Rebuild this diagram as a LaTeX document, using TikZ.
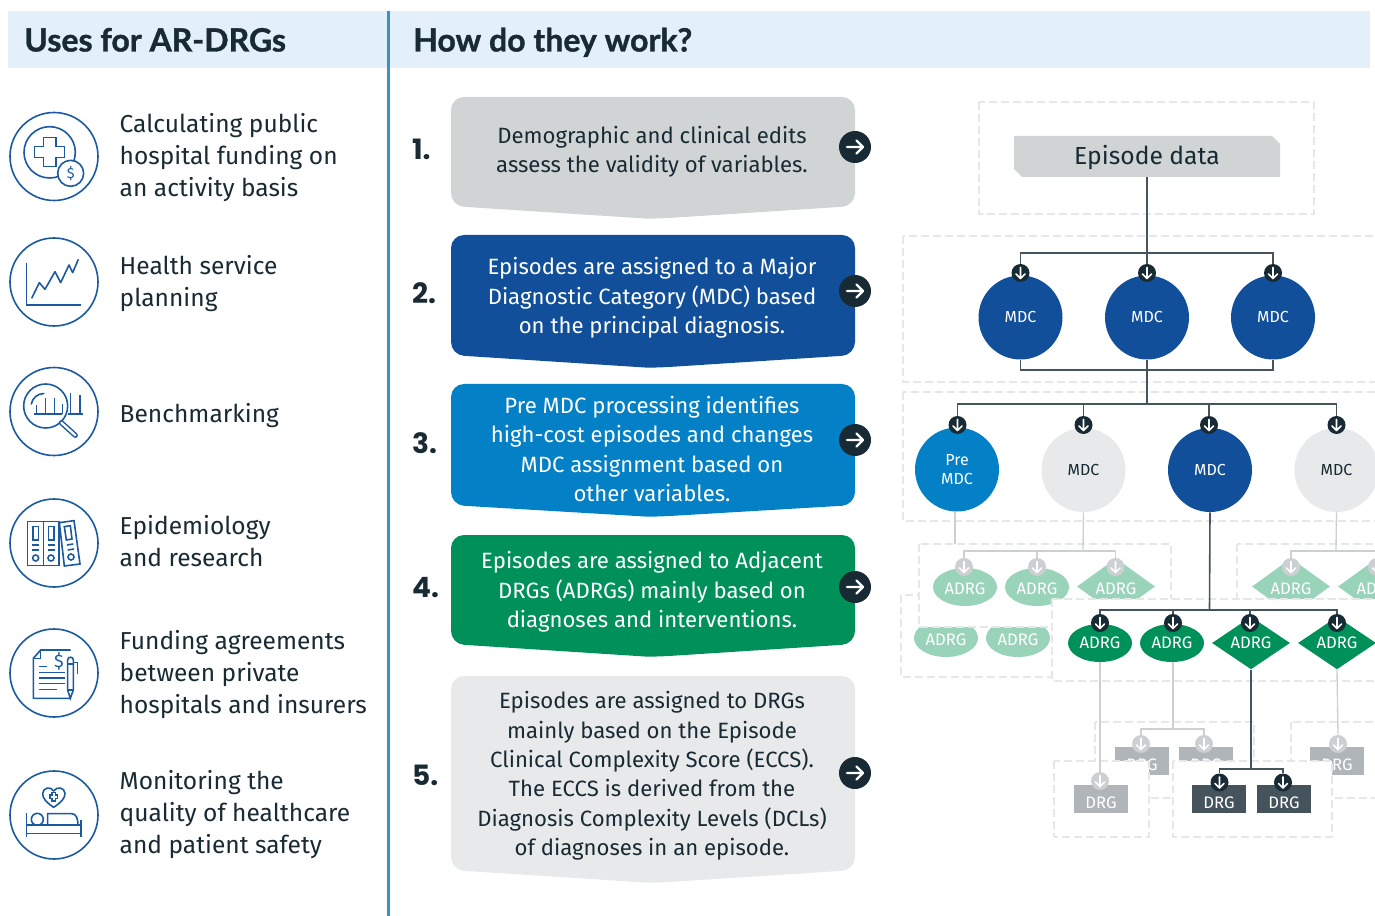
\documentclass[tikz,border=0pt]{standalone}
\usepackage{fontspec}
\setmainfont{Fira Sans}
\newfontfamily\headfont{Lato}[BoldFeatures={FakeBold=1.2}]
\newfontfamily\numfont{Poppins}
\usetikzlibrary{shapes.geometric,calc}
\definecolor{navy}{HTML}{114F9A}
\definecolor{midblue}{HTML}{0380C6}
\definecolor{green1}{HTML}{00915A}
\definecolor{palegreen}{HTML}{99D3BA}
\definecolor{greybox}{HTML}{D1D4D5}
\definecolor{paleMDC}{HTML}{E8E9EA}
\definecolor{ink}{HTML}{182A33}
\definecolor{band}{HTML}{E3F0F9}
\definecolor{rule}{HTML}{3D8FC8}
\definecolor{dashc}{HTML}{E5E7E8}
\definecolor{darkline}{HTML}{45555E}
\definecolor{paleline}{HTML}{CDD0D2}
\definecolor{drgdark}{HTML}{45545C}
\definecolor{drgpale}{HTML}{B0B5B9}
\definecolor{iconc}{HTML}{1B5AA0}
\tikzset{
 headtext/.style={anchor=base west,inner sep=0pt,text=ink,font=\headfont\bfseries\fontsize{24}{28}\selectfont},
 usetext/.style={anchor=west,align=left,text=ink,font=\fontsize{18.4}{24}\selectfont},
 steptext/.style={align=center,font=\fontsize{16.6}{22}\selectfont},
 numtext/.style={anchor=west,text=ink,font=\numfont\bfseries\fontsize{21}{26}\selectfont},
 iconline/.style={draw=iconc,line width=1.2pt},
 iconring/.style={circle,draw=iconc,line width=1.2pt,minimum size=66pt,inner sep=0pt},
 dashbox/.style={draw=dashc,line width=1.8pt,dash pattern=on 6pt off 3pt,fill=white},
 mdcnode/.style={circle,minimum size=63pt,inner sep=0pt,align=center,text=white,font=\fontsize{12}{14}\selectfont},
 adrgE/.style={ellipse,minimum width=48pt,minimum height=28.5pt,inner sep=0pt,text=white,font=\fontsize{12.5}{15}\selectfont},
 adrgD/.style={diamond,minimum width=58.5pt,minimum height=30pt,inner sep=0pt,text=white,font=\fontsize{12.5}{15}\selectfont},
 drgnode/.style={rectangle,minimum width=40.5pt,minimum height=21pt,inner sep=0pt,text=white,font=\fontsize{12.5}{15}\selectfont,text height=13.9pt,text depth=0pt},
 lowadrg/.style={text height=11.7pt,text depth=0pt},
 badge/.style={circle,minimum size=13.5pt,inner sep=0pt},
 bigbadge/.style={circle,fill=ink,minimum size=24pt,inner sep=0pt},
 darkconn/.style={draw=darkline,line width=1pt},
 paleconn/.style={draw=paleline,line width=1pt},
}
% down badge: name, position, colour
\newcommand{\dbadge}[3]{\node[badge,fill=#3] (#1) at (#2) {};
 \draw[white,line width=1.2pt,line cap=round,line join=round] (#1.center) ++(0,-5.5) -- ++(0,11) ++(-4.5,-4.5) -- ++(4.5,4.5) -- ++(4.5,-4.5);}
\newcommand{\panel}[6]{% name,top,bottom,tip,colour,badge y
 \fill[#5] (653,#2) [rounded corners=9.75pt] -- (855,#2) -- (855,#3) -- (658,{#4-0.3}) [sharp corners] -- (648,{#4-0.3}) [rounded corners=9.75pt] -- (451,#3) -- (451,#2) [sharp corners] -- cycle;
 \node[bigbadge] (#1b) at (855,#6) {};
 \draw[white,line width=1.8pt,line cap=round,line join=round] (#1b.center) ++(-8,0) -- ++(16,0) ++(-6.5,-6.5) -- ++(6.5,6.5) -- ++(-6.5,6.5);}
\begin{document}
\begin{tikzpicture}[x=0.75pt,y=-0.75pt]
\useasboundingbox (0,0) rectangle (1375,916);
\clip (0,0) rectangle (1375,916);
% header bands
\fill[band] (8,11) rectangle (387,68);
\fill[band] (390,11) rectangle (1370,68);
\draw[rule,line width=1.9pt] (388.5,11) -- (388.5,916);
\node[headtext] (h1) at (24,51.5) {Uses for AR-DRGs};
\node[headtext] (h2) at (413,51.5) {How do they work?};
% left column
\node[iconring] (ic1) at (54,156.5) {};
\node[iconring] (ic2) at (54,282) {};
\node[iconring] (ic3) at (54,411.5) {};
\node[iconring] (ic4) at (54,543) {};
\node[iconring] (ic5) at (54,673) {};
\node[iconring] (ic6) at (54,815) {};
\node[usetext] (u1) at (115,158) {Calculating public\\hospital funding on\\an activity basis};
\node[usetext] (u2) at (115,284) {Health service\\planning};
\node[usetext] (u3) at (115,416) {Benchmarking};
\node[usetext] (u4) at (115,541) {Epidemiology\\and research};
\node[usetext] (u5) at (115,675) {Funding agreements\\between private\\hospitals and insurers};
\node[usetext] (u6) at (115,815) {Monitoring the\\quality of healthcare\\and patient safety};
% icon 1
\begin{scope}[shift={(0,90)},x=0.25pt,y=-0.25pt,iconline]
\draw (149,187) circle[radius=77];
\draw (130,142) -- (168,142) -- (168,170) -- (193,170) -- (193,203) -- (168,203) -- (168,230) -- (130,230) -- (130,203) -- (104,203) -- (104,170) -- (130,170) -- cycle;
\draw[fill=white] (212,250) circle[radius=39];
\node[text=iconc,font=\fontsize{11}{13}\selectfont,inner sep=0pt] (dl) at (212,250) {\$};
\end{scope}
% icon 2
\begin{scope}[shift={(0,90)},x=0.25pt,y=-0.25pt,iconline]
\draw (80,518) -- (80,645) -- (243,645);
\draw[line join=round] (95,625) -- (118,578) -- (135,598) -- (165,545) -- (182,578) -- (207,525) -- (218,548) -- (235,508);
\end{scope}
% icon 3
\begin{scope}[shift={(0,90)},x=0.25pt,y=-0.25pt,iconline]
\draw (103,972) -- (187,972) (205,972) -- (250,972);
\draw (110,972) -- (110,945) (137,972) -- (137,925) (163,972) -- (163,925) (187,972) -- (187,942) (212,972) -- (212,908) (240,972) -- (240,915);
\draw (137,948) circle[radius=66];
\draw[line width=3.9pt,line cap=round] (184,998) -- (226,1036);
\draw[draw=white,line width=1.7pt,line cap=round] (184,998) -- (226,1036);
\draw[line cap=round] (94,942) arc[start angle=190,end angle=270,radius=38];
\end{scope}
% icon 4
\begin{scope}[shift={(0,480)},x=0.25pt,y=-0.25pt,iconline]
\draw (83,125) rectangle (130,257);
\draw (130,125) rectangle (177,257);
\draw (178,128) -- (222,122) -- (240,252) -- (193,258) -- cycle;
\draw (99,140) rectangle (116,180) (145,140) rectangle (162,180);
\draw (193,140) -- (211,137) -- (216,177) -- (199,180) -- cycle;
\draw (97,195) -- (118,195) (97,210) -- (118,210) (143,195) -- (164,195) (143,210) -- (164,210);
\draw (201,195) -- (220,192) (203,210) -- (222,207);
\draw (107,234) circle[radius=9] (153,234) circle[radius=9] (213,231) circle[radius=9];
\end{scope}
% icon 5
\begin{scope}[shift={(0,480)},x=0.25pt,y=-0.25pt,iconline]
\draw (212,510) -- (122,510) -- (100,535) -- (100,655) -- (212,655);
\draw (122,510) -- (122,535) -- (100,535);
\node[text=iconc,font=\fontsize{13.5}{15}\selectfont,inner sep=0pt] (dl5) at (177,545) {\$};
\draw (118,560) -- (142,560) (118,578) -- (196,578) (118,594) -- (196,594) (118,611) -- (196,611) (118,629) -- (172,629);
\draw[fill=white] (203,540) arc[start angle=180,end angle=360,radius=8.5] -- (220,630) -- (211,655) -- (203,630) -- cycle;
\draw (203,552) -- (220,552) (203,630) -- (220,630);
\draw (220,548) -- (232,548) -- (232,582);
\end{scope}
% icon 6
\begin{scope}[shift={(0,480)},x=0.25pt,y=-0.25pt,iconline]
\draw[line join=round] (161,982) .. controls (140,968) and (127,955) .. (128,940) .. controls (130,922) and (152,918) .. (161,933) .. controls (170,918) and (194,922) .. (195,940) .. controls (196,955) and (182,968) .. (161,982) -- cycle;
\draw (150,945) -- (156,945) -- (156,938) -- (167,938) -- (167,945) -- (173,945) -- (173,956) -- (167,956) -- (167,963) -- (156,963) -- (156,956) -- (150,956) -- cycle;
\draw (80,1000) -- (80,1072) (243,1020) -- (243,1072);
\draw (80,1035) -- (243,1035) (80,1060) -- (243,1060);
\draw (112,1018) circle[radius=18];
\draw (143,1035) -- (143,1001) -- (215,1001) .. controls (228,1001) and (234,1015) .. (234,1035);
\end{scope}
% steps
\panel{s1}{97}{206}{219}{greybox}{147}
\panel{s2}{235}{355}{368}{navy}{291}
\panel{s3}{384}{505}{517}{midblue}{440}
\panel{s4}{535}{644}{657}{green1}{587}
\panel{s5}{676}{870}{883}{paleMDC}{773}
\node[numtext] (n1) at (407.5,149) {1.};
\node[numtext] (n2) at (407.5,293) {2.};
\node[numtext] (n3) at (407.5,443) {3.};
\node[numtext] (n4) at (407.5,588) {4.};
\node[numtext] (n5) at (407.5,775) {5.};
\node[steptext,text=ink] (t1) at (652,152) {Demographic and clinical edits\\assess the validity of variables.};
\node[steptext,text=white] (t2) at (652,298) {Episodes are assigned to a Major\\Diagnostic Category (MDC) based\\on the principal diagnosis.};
\node[steptext,text=white] (t3) at (652,449) {Pre MDC processing identifies\\high-cost episodes and changes\\MDC assignment based on\\other variables.};
\node[steptext,text=white] (t4) at (652,592) {Episodes are assigned to Adjacent\\DRGs (ADRGs) mainly based on\\diagnoses and interventions.};
\node[steptext,text=ink] (t5) at (652,776) {Episodes are assigned to DRGs\\mainly based on the Episode\\Clinical Complexity Score (ECCS).\\The ECCS is derived from the\\Diagnosis Complexity Levels (DCLs)\\of diagnoses in an episode.};
% dashed frames, upper
\draw[dashbox] (979,102) rectangle (1314,214);
\draw[dashbox] (903,236) rectangle (1400,382);
\draw[dashbox] (903,392) rectangle (1400,521);
% episode
\fill[greybox] (1014,136) -- (1272,136) -- (1280,144) -- (1280,177) -- (1022,177) -- (1014,169) -- cycle;
\node[text=ink,font=\fontsize{18.5}{22}\selectfont,inner sep=0pt] (ep) at (1147,158) {Episode data};
\coordinate (epb) at (1147,177);
% MDC row 1
\node[mdcnode,fill=navy] (m1) at (1020.5,317.5) {\raisebox{1pt}{MDC}};
\node[mdcnode,fill=navy] (m2) at (1147,317.5) {\raisebox{1pt}{MDC}};
\node[mdcnode,fill=navy] (m3) at (1273,317.5) {\raisebox{1pt}{MDC}};
\dbadge{b1}{1020.5,273}{ink}
\dbadge{b2}{1147,273}{ink}
\dbadge{b3}{1273,273}{ink}
\coordinate (bus1) at (1147,253);
\draw[darkconn] (epb) -- (b2.north);
\draw[darkconn] (b1.north) |- (bus1) -| (b3.north);
\coordinate (bus2) at (1147,370);
\draw[darkconn] (m1.south) |- (bus2) -| (m3.south);
\draw[darkconn] (m2.south) -- (bus2);
% MDC row 2
\node[mdcnode,fill=midblue] (p1) at (957,469.5) {Pre\\MDC};
\node[mdcnode,fill=paleMDC,text=ink] (p2) at (1083.5,470) {MDC};
\node[mdcnode,fill=navy] (p3) at (1210,470) {MDC};
\node[mdcnode,fill=paleMDC,text=ink] (p4) at (1336.5,470) {MDC};
\dbadge{c1}{957.5,425}{ink}
\dbadge{c2}{1083.5,425}{ink}
\dbadge{c3}{1209,425}{ink}
\dbadge{c4}{1336.5,425}{ink}
\coordinate (bus3) at (1147,404);
\draw[darkconn] (bus2) -- (bus3);
\draw[darkconn] (c1.north) |- (bus3) -| (c4.north);
\draw[darkconn] (c2.north) -- (c2.north |- bus3);
\draw[darkconn] (c3.north) -- (c3.north |- bus3);
% back-left group
\draw[dashbox] (901,595) rectangle (1053,677);
\node[adrgE,lowadrg,fill=palegreen] (l1) at (946,638) {ADRG};
\node[adrgE,lowadrg,fill=palegreen] (l2) at (1018,638) {ADRG};
% box A
\draw[dashbox] (919,544) rectangle (1171,627);
\coordinate (a0) at (955,544);
\draw[paleconn] (p1.south -| a0) -- (a0);
\node[adrgE,lowadrg,fill=palegreen] (a1) at (965,587) {ADRG};
\node[adrgE,lowadrg,fill=palegreen] (a2) at (1037,587) {ADRG};
\node[adrgD,lowadrg,fill=palegreen] (a3) at (1116,586.5) {ADRG};
\dbadge{d1}{964,567}{paleline}
\dbadge{d2}{1037,567}{paleline}
\dbadge{d3}{1115.5,567}{paleline}
\coordinate (bus4) at (1083,551);
\draw[paleconn] (d1.north) |- (bus4) -| (d3.north);
\draw[paleconn] (d2.north) -- (d2.north |- bus4);
\draw[paleconn] (p2.south) -- (bus4);
% box right
\draw[dashbox] (1237,544) rectangle (1400,599);
\node[adrgD,lowadrg,fill=palegreen] (a4) at (1291,586.5) {ADRG};
\node[adrgD,lowadrg,fill=palegreen] (a5) at (1377,586.5) {ADRG};
\dbadge{d4}{1291,567}{paleline}
\dbadge{d5}{1377,567}{paleline}
\coordinate (bus5) at (1336,551);
\draw[paleconn] (d4.north) |- (bus5) -| (d5.north);
\draw[paleconn] (p4.south) -- (bus5);
% active box
\draw[dashbox] (1052,599) rectangle (1400,681);
\node[adrgE,fill=green1] (e1) at (1100,643) {ADRG};
\node[adrgE,fill=green1] (e2) at (1172,643) {ADRG};
\node[adrgD,fill=green1] (e3) at (1251,643) {ADRG};
\node[adrgD,fill=green1] (e4) at (1337,643) {ADRG};
\dbadge{f1}{1100,623}{ink}
\dbadge{f2}{1173,623}{ink}
\dbadge{f3}{1250,623}{ink}
\dbadge{f4}{1337,623}{ink}
\coordinate (bus6) at (1209.5,610);
\draw[darkconn,line width=1.2pt] (f1.north) |- (bus6) -| (f4.north);
\draw[darkconn,line width=1.2pt] (f2.north) -- (f2.north |- bus6);
\draw[darkconn,line width=1.2pt] (f3.north) -- (f3.north |- bus6);
\draw[darkconn,line width=1.2pt] (p3.south) -- (bus6);
% upper DRG
\draw[dashbox] (1095,722) rectangle (1254,798);
\draw[dashbox] (1291,722) rectangle (1400,798);
\node[drgnode,fill=drgpale] (g1) at (1142,761) {DRG};
\node[drgnode,fill=drgpale] (g2) at (1206,761) {DRG};
\node[drgnode,fill=drgpale] (g3) at (1337,761) {DRG};
\dbadge{k1}{1141,744}{paleline}
\dbadge{k2}{1204,744}{paleline}
\dbadge{k3}{1338,744}{paleline}
\coordinate (bus7) at (1173,729);
\draw[paleconn] (k1.north) |- (bus7) -| (k2.north);
\draw[paleconn] (e2.south -| bus7) -- (bus7);
\draw[paleconn] (e4.south) -- (k3.north);
% lower DRG
\draw[dashbox] (1054,761) rectangle (1149,837);
\draw[dashbox] (1173,761) rectangle (1332,837);
\node[drgnode,fill=drgpale] (g4) at (1101,799) {DRG};
\node[drgnode,fill=drgdark] (g5) at (1219,799) {DRG};
\node[drgnode,fill=drgdark] (g6) at (1284,799) {DRG};
\dbadge{k4}{1100,781}{paleline}
\dbadge{k5}{1219.5,782.5}{ink}
\dbadge{k6}{1283,782.5}{ink}
\coordinate (bus8) at (1251,769);
\draw[paleconn] (e1.south) -- (k4.north);
\draw[darkconn] (k5.north) |- (bus8) -| (k6.north);
\draw[darkconn,line width=1.2pt] (e3.south) -- (bus8);
\end{tikzpicture}
\end{document}
